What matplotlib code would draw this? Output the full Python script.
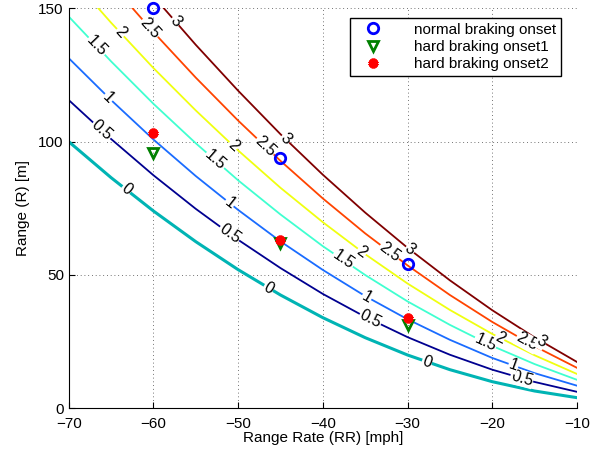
import numpy as np
import matplotlib.pyplot as plt

plt.rcParams['font.family'] = ['Liberation Sans', 'DejaVu Sans']

# range rate grid [mph] and contour lines, range [m]
rr = [-70, -65, -60, -55, -50, -45, -40, -35, -30, -25, -20, -15, -10]
levels = [0, 0.5, 1, 1.5, 2, 2.5, 3]
r_0 = [100, 86.5, 74, 62.5, 52, 42.5, 34, 26.5, 20, 14.5, 10, 6.5, 4]
r_05 = [115.6, 101.0, 87.4, 74.8, 63.2, 52.6, 42.9, 34.3, 26.7, 20.1, 14.5, 9.9, 6.2]
r_1 = [131.3, 115.6, 100.8, 87.1, 74.4, 62.6, 51.9, 42.1, 33.4, 25.7, 18.9, 13.2, 8.5]
r_15 = [146.9, 130.1, 114.2, 99.4, 85.5, 72.7, 60.8, 50.0, 40.1, 31.3, 23.4, 16.6, 10.7]
r_2 = [162.6, 144.6, 127.6, 111.7, 96.7, 82.7, 69.8, 57.8, 46.8, 36.9, 27.9, 19.9, 12.9]
r_25 = [178.3, 159.2, 141.1, 124.0, 107.9, 92.8, 78.7, 65.6, 53.6, 42.5, 32.4, 23.3, 15.2]
r_3 = [193.9, 173.7, 154.5, 136.3, 119.1, 102.8, 87.6, 73.4, 60.2, 48.0, 36.8, 26.6, 17.4]
curves = [r_0, r_05, r_1, r_15, r_2, r_25, r_3]

# where the inline labels sit (range rate)
label_x = [
    [-63.2, -46.4, -27.7],
    [-66.1, -51, -34.4, -16.5],
    [-65.3, -51, -34.8, -17.5],
    [-66.7, -52.7, -37.6, -20.8],
    [-63.9, -50.6, -35.4, -19.1],
    [-60.4, -46.8, -32.1, -15.9],
    [-57.4, -44.4, -29.7, -14.2],
]

# braking onset points
onset_rr = [-60, -45, -30]
normal_r = [150, 94, 54]
hard1_r = [95.7, 61.9, 31.2]
hard2_r = [103.2, 63.1, 33.7]

colors = ['#00b4b4', '#000090', '#1a6cff', '#40ffd0', '#f0ff10', '#ff4400', '#800000']
widths = [2.2, 1.3, 1.3, 1.3, 1.3, 1.3, 1.3]

fig = plt.figure(figsize=(5.95, 4.53), dpi=100)
ax = fig.add_axes([0.1155, 0.0986, 0.8541, 0.8831])

for lvl, r, c, w, lx in zip(levels, curves, colors, widths, label_x):
    ax.plot(rr, r, color=c, lw=w, zorder=2)
    for x in lx:
        y = np.interp(x, rr, r)
        slope = np.interp(x, rr, np.gradient(r, rr))
        # data slope -> screen angle
        ang = np.degrees(np.arctan(slope * (400.0 / 150) / (508.0 / 60)))
        txt = '%g' % lvl
        ax.text(x, y, txt, fontsize=11.5, rotation=ang, rotation_mode='anchor',
                ha='center', va='center', zorder=4,
                bbox=dict(facecolor='white', edgecolor='none', pad=0.5))

ax.plot(onset_rr, normal_r, 'o', mfc='none', mec='b', mew=2, ms=7.5,
        label='normal braking onset', zorder=5, clip_on=False)
ax.plot(onset_rr, hard1_r, 'v', mfc='none', mec='g', mew=2, ms=7.5,
        label='hard braking onset1', zorder=5)
ax.plot(onset_rr, hard2_r, linestyle='none', marker=(6, 2, 0), color='r', mew=2.8, ms=7,
        label='hard braking onset2', zorder=5)

ax.set_xlim(-70, -10)
ax.set_ylim(0, 150)
ax.set_xticks([-70, -60, -50, -40, -30, -20, -10])
ax.set_yticks([0, 50, 100, 150])
ax.set_xticklabels(['\u221270', '\u221260', '\u221250', '\u221240', '\u221230', '\u221220', '\u221210'])
ax.tick_params(direction='in', labelsize=11, length=4, top=False, right=False)
ax.tick_params(axis='x', pad=6)
ax.grid(True, color='#444444', linestyle=(0, (1, 3.5)), linewidth=0.6)
ax.spines['top'].set_visible(False)
ax.spines['right'].set_visible(False)
ax.set_xlabel('Range Rate (RR) [mph]', fontsize=11, labelpad=0)
ax.set_ylabel('Range (R) [m]', fontsize=11, labelpad=6)

leg = ax.legend(loc='upper right', fontsize=11, fancybox=False, framealpha=1,
                edgecolor='k', bbox_to_anchor=(0.983, 0.995), handletextpad=1.4,
                borderpad=0.3, labelspacing=0.22, handlelength=2.5)
leg.get_frame().set_linewidth(1.0)

fig.savefig('out.png', dpi=100)
